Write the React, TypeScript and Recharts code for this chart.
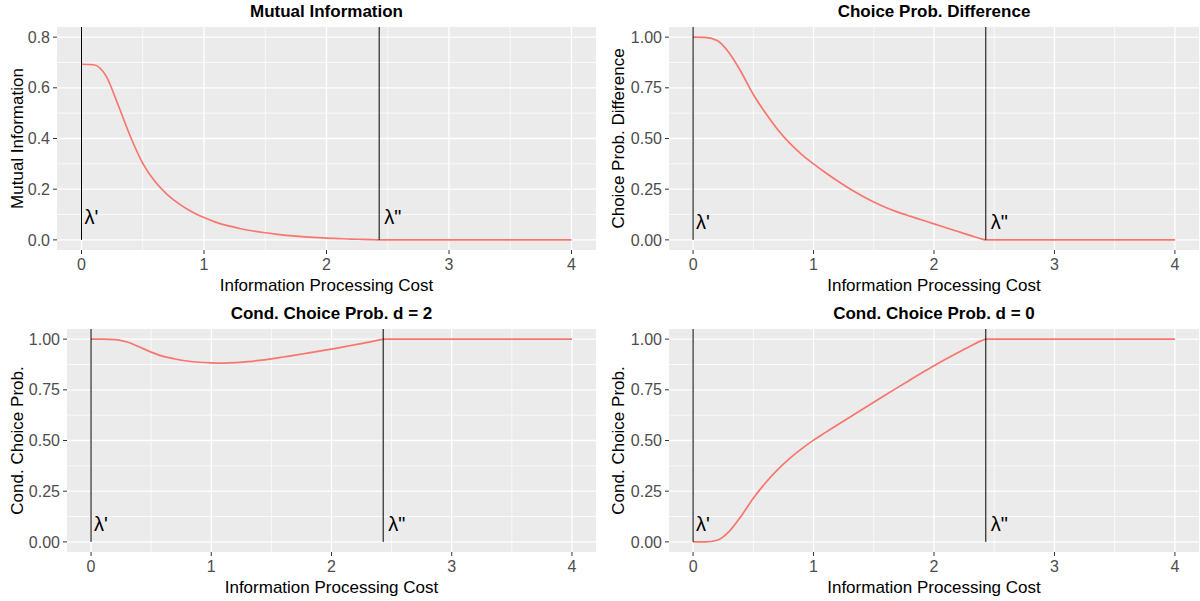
import React from "react";
import {
  LineChart,
  Line,
  XAxis,
  YAxis,
  CartesianGrid,
  ReferenceLine,
  ReferenceDot,
} from "recharts";

// information processing cost (x) shared by all four panels
const cost = [
  0, 0.1, 0.2, 0.3, 0.4, 0.5, 0.6, 0.7, 0.8, 0.9, 1.0, 1.1, 1.2, 1.3, 1.4, 1.5,
  1.6, 1.7, 1.8, 1.9, 2.0, 2.1, 2.2, 2.3, 2.4, 2.43, 3, 4,
];

const mutualInfo = [
  0.693, 0.691, 0.647, 0.531, 0.407, 0.302, 0.23, 0.179, 0.141, 0.111, 0.088,
  0.069, 0.055, 0.044, 0.035, 0.028, 0.022, 0.017, 0.013, 0.01, 0.007, 0.005,
  0.003, 0.002, 0.0005, 0, 0, 0,
];

const probDiff = [
  1, 0.999, 0.983, 0.922, 0.827, 0.717, 0.627, 0.546, 0.478, 0.422, 0.375,
  0.331, 0.29, 0.252, 0.218, 0.187, 0.16, 0.137, 0.117, 0.098, 0.079, 0.06,
  0.041, 0.022, 0.004, 0, 0, 0,
];

const condProbD2 = [
  1, 1, 0.998, 0.986, 0.962, 0.936, 0.915, 0.902, 0.892, 0.886, 0.883, 0.882,
  0.884, 0.889, 0.895, 0.903, 0.912, 0.921, 0.931, 0.941, 0.951, 0.962, 0.973,
  0.984, 0.996, 1, 1, 1,
];

const condProbD0 = [
  0, 0, 0.008, 0.052, 0.128, 0.215, 0.29, 0.355, 0.411, 0.459, 0.502, 0.54,
  0.578, 0.615, 0.652, 0.689, 0.726, 0.762, 0.798, 0.834, 0.869, 0.902, 0.934,
  0.965, 0.994, 1, 1, 1,
];

const lambdaLow = 0;
const lambdaHigh = 2.43;
const lambdaLabelY = 0.1;

const xTicks = [0, 1, 2, 3, 4];
const xMinor = [0.5, 1.5, 2.5, 3.5];
const miTicks = [0, 0.2, 0.4, 0.6, 0.8];
const miMinor = [0.1, 0.3, 0.5, 0.7];
const probTicks = [0, 0.25, 0.5, 0.75, 1];
const probMinor = [0.125, 0.375, 0.625, 0.875];

const RED = "#F8766D";
const H = 299;
const MT = 27;
const XH = 49;
const PLOT_H = H - MT - XH;

const lambdaText = (label: string, dx: number) => (p: any) => (
  <text x={p.cx + dx} y={p.cy + 9} fontSize={20} fill="#000">
    {label}
  </text>
);

type PanelProps = {
  left: number;
  top: number;
  yW: number;
  plotW: number;
  yTitleX: number;
  title: string;
  yTitle: string;
  values: number[];
  yTicks: number[];
  yMinor: number[];
  yDomain: [number, number];
  digits: number;
};

function Panel({
  left,
  top,
  yW,
  plotW,
  yTitleX,
  title,
  yTitle,
  values,
  yTicks,
  yMinor,
  yDomain,
  digits,
}: PanelProps) {
  const data = cost.map((c, i) => ({ cost: c, value: values[i] }));
  const W = yW + plotW;
  const cx = yW + plotW / 2;
  const cy = MT + PLOT_H / 2;
  const yTop = yDomain[1];

  return (
    <div style={{ position: "absolute", left, top, width: W, height: H }}>
      <LineChart
        width={W}
        height={H}
        data={data}
        margin={{ top: MT, right: 0, bottom: 0, left: 0 }}
      >
        <CartesianGrid
          fill="#EBEBEB"
          stroke="#FFFFFF"
          strokeWidth={0.7}
          horizontalValues={yMinor}
          verticalValues={xMinor}
        />
        <CartesianGrid
          fill="none"
          stroke="#FFFFFF"
          strokeWidth={1.3}
          horizontalValues={yTicks}
          verticalValues={xTicks}
        />
        <XAxis
          dataKey="cost"
          type="number"
          domain={[-0.2, 4.2]}
          ticks={xTicks}
          allowDataOverflow
          height={XH}
          axisLine={false}
          tickSize={4}
          tickMargin={5}
          tickLine={{ stroke: "#333333" }}
          tick={{ fill: "#4D4D4D", fontSize: 16 }}
          interval={0}
        />
        <YAxis
          type="number"
          domain={yDomain}
          ticks={yTicks}
          allowDataOverflow
          width={yW}
          axisLine={false}
          tickSize={4}
          tickMargin={3}
          tickLine={{ stroke: "#333333" }}
          tick={{ fill: "#4D4D4D", fontSize: 16 }}
          tickFormatter={(v: number) => v.toFixed(digits)}
          interval={0}
        />
        <Line
          type="monotone"
          dataKey="value"
          stroke={RED}
          strokeWidth={1.7}
          dot={false}
          isAnimationActive={false}
        />
        <ReferenceLine
          segment={[
            { x: lambdaLow, y: 0 },
            { x: lambdaLow, y: yTop },
          ]}
          stroke="#000"
          strokeWidth={1}
        />
        <ReferenceLine
          segment={[
            { x: lambdaHigh, y: 0 },
            { x: lambdaHigh, y: yTop },
          ]}
          stroke="#000"
          strokeWidth={1}
        />
        <ReferenceDot x={lambdaLow} y={lambdaLabelY} r={0} shape={lambdaText("λ'", 3)} />
        <ReferenceDot x={lambdaHigh} y={lambdaLabelY} r={0} shape={lambdaText('λ"', 5)} />
      </LineChart>
      <svg
        width={W}
        height={H}
        style={{ position: "absolute", left: 0, top: 0, pointerEvents: "none" }}
      >
        <text x={cx} y={17} textAnchor="middle" fontSize={17} fontWeight="bold" fill="#000">
          {title}
        </text>
        <text x={cx} y={291} textAnchor="middle" fontSize={17} fill="#000">
          Information Processing Cost
        </text>
        <text
          x={yTitleX}
          y={cy}
          textAnchor="middle"
          fontSize={17}
          fill="#000"
          transform={`rotate(-90 ${yTitleX} ${cy})`}
        >
          {yTitle}
        </text>
      </svg>
    </div>
  );
}

export default function App() {
  return (
    <div
      style={{
        position: "absolute",
        left: 0,
        top: 0,
        width: 1200,
        height: 601,
        background: "#FFFFFF",
        overflow: "hidden",
        fontFamily: "'Liberation Sans', Arial, sans-serif",
      }}
    >
      <Panel
        left={0}
        top={0}
        yW={57}
        plotW={539}
        yTitleX={23}
        title="Mutual Information"
        yTitle="Mutual Information"
        values={mutualInfo}
        yTicks={miTicks}
        yMinor={miMinor}
        yDomain={[-0.04, 0.84]}
        digits={1}
      />
      <Panel
        left={600}
        top={0}
        yW={69}
        plotW={530}
        yTitleX={24}
        title="Choice Prob. Difference"
        yTitle="Choice Prob. Difference"
        values={probDiff}
        yTicks={probTicks}
        yMinor={probMinor}
        yDomain={[-0.05, 1.05]}
        digits={2}
      />
      <Panel
        left={0}
        top={302}
        yW={67}
        plotW={529}
        yTitleX={23}
        title="Cond. Choice Prob. d = 2"
        yTitle="Cond. Choice Prob."
        values={condProbD2}
        yTicks={probTicks}
        yMinor={probMinor}
        yDomain={[-0.05, 1.05]}
        digits={2}
      />
      <Panel
        left={600}
        top={302}
        yW={69}
        plotW={530}
        yTitleX={24}
        title="Cond. Choice Prob. d = 0"
        yTitle="Cond. Choice Prob."
        values={condProbD0}
        yTicks={probTicks}
        yMinor={probMinor}
        yDomain={[-0.05, 1.05]}
        digits={2}
      />
    </div>
  );
}
